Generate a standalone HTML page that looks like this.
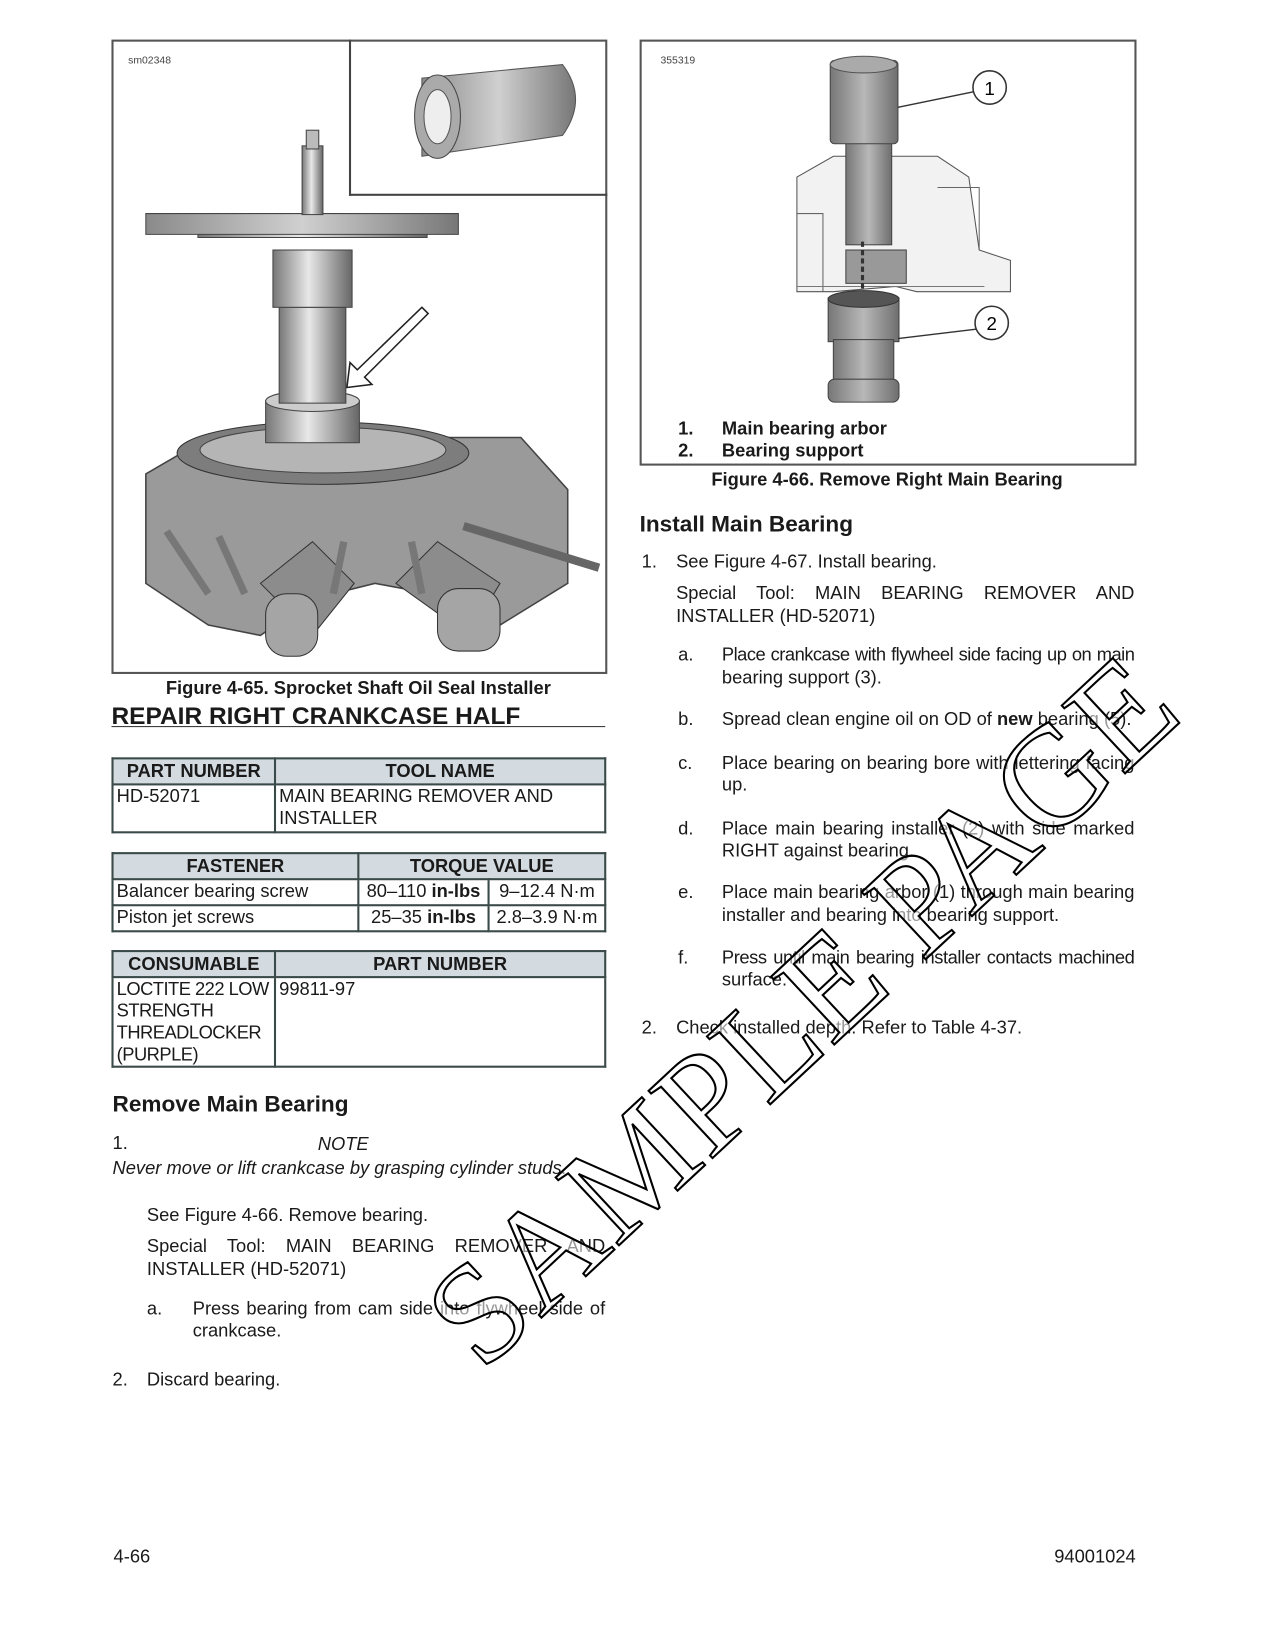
<!DOCTYPE html>
<html><head><meta charset="utf-8">
<style>
html,body{margin:0;padding:0;background:#fff;width:1275px;height:1650px;overflow:hidden}
#w{position:absolute;left:0;top:0;width:1224px;height:1584px;transform:scale(1.0417);transform-origin:0 0;font-family:"Liberation Sans",Arial,sans-serif;color:#1a1a1a}
.a{position:absolute;white-space:nowrap}
.t{font-size:17.6px}
.b{font-weight:bold}
.h{font-size:21.7px;font-weight:bold}
table{position:absolute;border-collapse:collapse;font-size:17.6px}
td{border:2px solid #3a4a48;padding:0 3px;vertical-align:top;line-height:21px}
th{border:2px solid #3a4a48;background:#d3dbe0;font-weight:bold;height:23px;padding:0;line-height:21px}
.j{text-align:justify;text-align-last:justify;position:absolute;font-size:17.6px;white-space:nowrap}
</style></head><body><div id="w">

<!-- left figure -->
<div class="a" style="left:107px;top:38px;width:472px;height:605px;border:2px solid #555"></div>
<div class="a" style="left:335px;top:38px;width:246px;height:148px;border-left:2px solid #444;border-bottom:2px solid #444"></div>
<div class="a" style="left:123px;top:53px;font-size:10px;color:#444">sm02348</div>
<svg class="a" style="left:107px;top:38px" width="476" height="607" viewBox="107 38 476 607">
 <defs>
  <linearGradient id="g1" x1="0" x2="1"><stop offset="0" stop-color="#777"/><stop offset=".45" stop-color="#e8e8e8"/><stop offset="1" stop-color="#666"/></linearGradient>
  <linearGradient id="g2" x1="0" x2="1"><stop offset="0" stop-color="#8a8a8a"/><stop offset=".5" stop-color="#d0d0d0"/><stop offset="1" stop-color="#777"/></linearGradient>
 </defs>
 <path d="M405 75 L540 62 Q565 95 540 130 L405 150 Z" fill="url(#g2)" stroke="#555"/>
 <ellipse cx="420" cy="112" rx="22" ry="40" fill="#aaa" stroke="#444"/>
 <ellipse cx="420" cy="112" rx="13" ry="26" fill="#eee" stroke="#555"/>
 <path d="M140 455 L200 420 L500 420 L545 470 L545 560 L480 600 L440 575 L360 560 L300 575 L250 610 L200 600 L140 560 Z" fill="#9a9a9a" stroke="#444" stroke-width="1.5"/>
 <ellipse cx="310" cy="435" rx="140" ry="30" fill="#7d7d7d" stroke="#333"/>
 <ellipse cx="310" cy="432" rx="118" ry="22" fill="#b5b5b5" stroke="#444"/>
 <path d="M250 560 L300 520 L340 560 L300 610 Z" fill="#8c8c8c" stroke="#333"/>
 <path d="M380 560 L420 520 L480 560 L450 610 Z" fill="#8c8c8c" stroke="#333"/>
 <rect x="255" y="570" width="50" height="60" rx="20" fill="#a5a5a5" stroke="#333"/>
 <rect x="420" y="565" width="60" height="60" rx="20" fill="#a5a5a5" stroke="#333"/>
 <line x1="445" y1="505" x2="575" y2="545" stroke="#666" stroke-width="8"/>
 <line x1="160" y1="510" x2="200" y2="570" stroke="#777" stroke-width="7"/>
 <line x1="210" y1="515" x2="235" y2="570" stroke="#777" stroke-width="7"/>
 <line x1="330" y1="520" x2="320" y2="570" stroke="#777" stroke-width="7"/>
 <line x1="395" y1="520" x2="405" y2="570" stroke="#777" stroke-width="7"/>
 <rect x="255" y="385" width="90" height="40" fill="url(#g1)" stroke="#444"/>
 <ellipse cx="300" cy="385" rx="45" ry="10" fill="#ccc" stroke="#444"/>
 <rect x="268" y="295" width="64" height="92" fill="url(#g1)" stroke="#444"/>
 <rect x="262" y="240" width="76" height="55" fill="url(#g1)" stroke="#444"/>
 <path d="M190 210 L410 210 L410 228 L190 228 Z" fill="url(#g1)" stroke="#444"/>
 <path d="M140 205 L440 205 L440 225 L140 225 Z" fill="url(#g2)" stroke="#444"/>
 <rect x="290" y="140" width="20" height="66" fill="url(#g1)" stroke="#444"/>
 <rect x="294" y="125" width="12" height="18" fill="#bbb" stroke="#444"/>
 <polygon points="405,295 411,301 350,362 357,369 333,372 336,348 343,355" fill="#fff" stroke="#222" stroke-width="1.5"/>
</svg>
<div class="a b" style="left:107px;top:650px;width:474px;text-align:center;font-size:17.6px">Figure 4-65. Sprocket Shaft Oil Seal Installer</div>
<div class="a h" style="left:107px;top:674px;font-size:23.5px">REPAIR RIGHT CRANKCASE HALF</div>
<div class="a" style="left:107px;top:697px;width:474px;height:1px;background:#333"></div>

<table style="left:107px;top:727px;width:475px">
 <tr><th style="width:154px">PART NUMBER</th><th>TOOL NAME</th></tr>
 <tr><td style="height:44px">HD-52071</td><td>MAIN BEARING REMOVER AND<br>INSTALLER</td></tr>
</table>
<table style="left:107px;top:818px;width:475px">
 <tr><th style="width:234px">FASTENER</th><th colspan="2">TORQUE VALUE</th></tr>
 <tr><td style="height:23px">Balancer bearing screw</td><td style="text-align:center">80–110 <b>in-lbs</b></td><td style="text-align:center">9–12.4 N·m</td></tr>
 <tr><td style="height:23px">Piston jet screws</td><td style="text-align:center">25–35 <b>in-lbs</b></td><td style="text-align:center">2.8–3.9 N·m</td></tr>
</table>
<table style="left:107px;top:912px;width:475px;table-layout:fixed">
 <tr><th style="width:154px">CONSUMABLE</th><th>PART NUMBER</th></tr>
 <tr><td style="white-space:nowrap;letter-spacing:-0.5px;padding:0 1px 0 3px">LOCTITE 222 LOW<br>STRENGTH<br>THREADLOCKER<br>(PURPLE)</td><td>99811-97</td></tr>
</table>

<div class="a h" style="left:108px;top:1047px">Remove Main Bearing</div>
<div class="a t" style="left:108px;top:1087px">1.</div>
<div class="a t" style="left:305px;top:1088px;font-style:italic">NOTE</div>
<div class="a t" style="left:108px;top:1111px;font-style:italic">Never move or lift crankcase by grasping cylinder studs.</div>
<div class="a t" style="left:141px;top:1156px">See Figure 4-66. Remove bearing.</div>
<div class="j" style="left:141px;top:1186px;width:440px">Special Tool: MAIN BEARING REMOVER AND</div>
<div class="a t" style="left:141px;top:1208px">INSTALLER (HD-52071)</div>
<div class="a t" style="left:141px;top:1246px">a.</div>
<div class="j" style="left:185px;top:1246px;width:396px">Press bearing from cam side into flywheel side of</div>
<div class="a t" style="left:185px;top:1267px">crankcase.</div>
<div class="a t" style="left:108px;top:1314px">2.</div>
<div class="a t" style="left:141px;top:1314px">Discard bearing.</div>

<!-- right figure -->
<div class="a" style="left:614px;top:38px;width:473px;height:405px;border:2px solid #555"></div>
<div class="a" style="left:634px;top:53px;font-size:10px;color:#444">355319</div>
<svg class="a" style="left:614px;top:38px" width="476" height="408" viewBox="614 38 476 408">
 <defs><linearGradient id="g3" x1="0" x2="1"><stop offset="0" stop-color="#777"/><stop offset=".5" stop-color="#b8b8b8"/><stop offset="1" stop-color="#6e6e6e"/></linearGradient></defs>
 <path d="M765 170 L800 150 L900 150 L930 170 L940 240 L970 250 L970 280 L880 280 L860 275 L800 280 L765 280 Z" fill="#f2f2f2" stroke="#555"/>
 <path d="M765 205 L790 205 L790 280 M900 180 L940 180 L940 240" fill="none" stroke="#666"/>
 <rect x="812" y="240" width="58" height="32" fill="#999" stroke="#444"/>
 <line x1="765" y1="275" x2="945" y2="275" stroke="#777"/>
 <rect x="812" y="135" width="44" height="100" fill="url(#g3)" stroke="#444"/>
 <rect x="797" y="58" width="65" height="80" rx="4" fill="url(#g3)" stroke="#444"/>
 <ellipse cx="829" cy="62" rx="32" ry="8" fill="#aaa" stroke="#555"/>
 <line x1="828" y1="232" x2="828" y2="300" stroke="#333" stroke-width="3" stroke-dasharray="5,3"/>
 <polygon points="822,296 834,296 828,306" fill="#333"/>
 <rect x="795" y="286" width="68" height="42" fill="url(#g3)" stroke="#444"/>
 <ellipse cx="829" cy="287" rx="34" ry="8" fill="#555" stroke="#333"/>
 <rect x="800" y="326" width="58" height="40" fill="url(#g3)" stroke="#444"/>
 <rect x="795" y="364" width="68" height="22" rx="6" fill="url(#g3)" stroke="#444"/>
 <line x1="862" y1="103" x2="935" y2="88" stroke="#333" stroke-width="1.3"/>
 <circle cx="950" cy="84" r="16" fill="#fff" stroke="#333" stroke-width="1.5"/>
 <text x="950" y="91" font-size="18" text-anchor="middle" font-family="Liberation Sans">1</text>
 <line x1="862" y1="325" x2="937" y2="316" stroke="#333" stroke-width="1.3"/>
 <circle cx="952" cy="310" r="16" fill="#fff" stroke="#333" stroke-width="1.5"/>
 <text x="952" y="317" font-size="18" text-anchor="middle" font-family="Liberation Sans">2</text>
</svg>
<div class="a t b" style="left:651px;top:401px">1.</div>
<div class="a t b" style="left:693px;top:401px">Main bearing arbor</div>
<div class="a t b" style="left:651px;top:422px">2.</div>
<div class="a t b" style="left:693px;top:422px">Bearing support</div>
<div class="a b" style="left:614px;top:450px;width:475px;text-align:center;font-size:17.6px">Figure 4-66. Remove Right Main Bearing</div>

<div class="a h" style="left:614px;top:490px">Install Main Bearing</div>
<div class="a t" style="left:616px;top:529px">1.</div>
<div class="a t" style="left:649px;top:529px">See Figure 4-67. Install bearing.</div>
<div class="j" style="left:649px;top:559px;width:440px">Special Tool: MAIN BEARING REMOVER AND</div>
<div class="a t" style="left:649px;top:581px">INSTALLER (HD-52071)</div>
<div class="a t" style="left:651px;top:618px">a.</div>
<div class="j" style="left:693px;top:618px;width:396px;letter-spacing:-0.5px">Place crankcase with flywheel side facing up on main</div>
<div class="a t" style="left:693px;top:640px">bearing support (3).</div>
<div class="a t" style="left:651px;top:680px">b.</div>
<div class="a t" style="left:693px;top:680px">Spread clean engine oil on OD of <b>new</b> bearing (5).</div>
<div class="a t" style="left:651px;top:722px">c.</div>
<div class="j" style="left:693px;top:722px;width:396px">Place bearing on bearing bore with lettering facing</div>
<div class="a t" style="left:693px;top:743px">up.</div>
<div class="a t" style="left:651px;top:785px">d.</div>
<div class="j" style="left:693px;top:785px;width:396px">Place main bearing installer (2) with side marked</div>
<div class="a t" style="left:693px;top:806px">RIGHT against bearing.</div>
<div class="a t" style="left:651px;top:846px">e.</div>
<div class="j" style="left:693px;top:846px;width:396px">Place main bearing arbor (1) through main bearing</div>
<div class="a t" style="left:693px;top:868px">installer and bearing into bearing support.</div>
<div class="a t" style="left:651px;top:909px">f.</div>
<div class="j" style="left:693px;top:909px;width:396px;letter-spacing:-0.4px">Press until main bearing installer contacts machined</div>
<div class="a t" style="left:693px;top:930px">surface.</div>
<div class="a t" style="left:616px;top:976px">2.</div>
<div class="a t" style="left:649px;top:976px">Check installed depth. Refer to Table 4-37.</div>

<div class="a t" style="left:109px;top:1484px">4-66</div>
<div class="a t" style="left:1012px;top:1484px">94001024</div>

<!-- watermark -->
<div class="a" style="left:770px;top:970px;transform:translate(-50%,-50%) rotate(-43deg);font-family:'Liberation Serif',serif;font-size:136px;color:rgba(255,255,255,0.55);-webkit-text-stroke:2px #000;letter-spacing:1px">SAMPLE PAGE</div>

</div></body></html>
